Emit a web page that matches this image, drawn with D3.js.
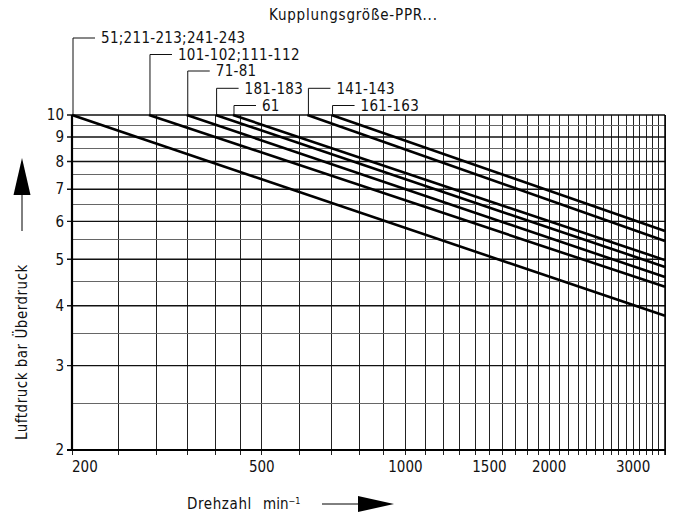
<!DOCTYPE html>
<html>
<head>
<meta charset="utf-8">
<script src="https://cdn.jsdelivr.net/npm/d3@7"></script>
<style>
  html, body { margin: 0; padding: 0; background: #fff; }
  svg { display: block; }
  text { font-family: "DejaVu Sans Condensed", "DejaVu Sans", sans-serif; fill: #111; }
</style>
</head>
<body>
<svg id="chart" width="673" height="518"></svg>
<script>
// ---- data ----
const seriesNames = ["51;211-213;241-243", "101-102;111-112", "71-81", "181-183", "61", "141-143", "161-163"];
const startRpm = [200, 290, 348, 400, 435, 623, 700];     // speed where pressure = 10 bar
const endPressure = [3.81, 4.38, 4.59, 4.82, 4.98, 5.46, 5.73]; // pressure at 3500 min^-1
const startPressure = 10;
const endRpm = 3500;
const xTickLabels = [200, 500, 1000, 1500, 2000, 3000];
const yTickLabels = [2, 3, 4, 5, 6, 7, 8, 9, 10];
const yHalfLines = [2.5, 3.5, 4.5, 5.5, 6.5, 7.5, 8.5, 9.5];
const xGridValues = [200, 250, 300, 350, 400, 450, 500, 600, 700, 800, 900, 1000, 1100, 1200, 1300, 1400, 1500,
  1600, 1700, 1800, 1900, 2000, 2100, 2200, 2300, 2400, 2500, 2600, 2700, 2800, 2900, 3000, 3100, 3200, 3300, 3400, 3500];
const labelLevel = [0, 1, 2, 3, 4, 3, 4];
const titleText = "Kupplungsgröße-PPR...";
const yTitle = "Luftdruck bar Überdruck";

// ---- layout ----
const svg = d3.select("#chart");
const x = d3.scaleLog().domain([200, 3500]).range([72, 665]);
const y = d3.scaleLog().domain([2, 10]).range([450, 115]);
const x0 = x.range()[0], x1 = x.range()[1], yTop = y.range()[1], yBot = y.range()[0];

// vertical grid
svg.append("g").selectAll("line").data(xGridValues).join("line")
  .attr("x1", d => x(d)).attr("x2", d => x(d))
  .attr("y1", yTop).attr("y2", yBot + 5)
  .attr("stroke", "#222").attr("stroke-width", 1).attr("shape-rendering", "crispEdges");

// horizontal half lines
svg.append("g").selectAll("line").data(yHalfLines).join("line")
  .attr("x1", x0).attr("x2", x1)
  .attr("y1", d => y(d)).attr("y2", d => y(d))
  .attr("stroke", "#666").attr("stroke-width", 1).attr("shape-rendering", "crispEdges");

// horizontal major lines
svg.append("g").selectAll("line").data(yTickLabels).join("line")
  .attr("x1", x0 - 5).attr("x2", x1)
  .attr("y1", d => y(d)).attr("y2", d => y(d))
  .attr("stroke", "#111").attr("stroke-width", 1.4);

// frame: left & bottom axis thicker
svg.append("line").attr("x1", x0).attr("x2", x0).attr("y1", yTop).attr("y2", yBot + 1)
  .attr("stroke", "#000").attr("stroke-width", 2.2);
svg.append("line").attr("x1", x0 - 5).attr("x2", x1 + 0.5).attr("y1", yBot).attr("y2", yBot)
  .attr("stroke", "#000").attr("stroke-width", 2);
svg.append("line").attr("x1", x1).attr("x2", x1).attr("y1", yTop).attr("y2", yBot + 5)
  .attr("stroke", "#000").attr("stroke-width", 1.5);

// y tick labels
svg.append("g").selectAll("text").data(yTickLabels).join("text")
  .attr("x", 64).attr("y", d => y(d)).attr("dy", "0.35em")
  .attr("text-anchor", "end").attr("font-size", 15)
  .text(d => d);

// x tick labels
svg.append("g").selectAll("text").data(xTickLabels).join("text")
  .attr("x", d => x(d)).attr("y", 467).attr("dy", "0.35em")
  .attr("text-anchor", d => d === 200 ? "start" : "middle").attr("font-size", 15)
  .text(d => d);

// series lines
const series = seriesNames.map((name, i) => ({
  name, level: labelLevel[i],
  pts: [[startRpm[i], startPressure], [endRpm, endPressure[i]]]
}));
const lineGen = d3.line().x(d => x(d[0])).y(d => y(d[1]));
svg.append("g").selectAll("path").data(series).join("path")
  .attr("d", d => lineGen(d.pts))
  .attr("fill", "none").attr("stroke", "#000").attr("stroke-width", 2.6);

// leaders and labels
const levelY = [38, 54.5, 71, 88.3, 105.5];
const lg = svg.append("g");
series.forEach(s => {
  const sx = x(s.pts[0][0]) + 1;
  const ly = levelY[s.level];
  lg.append("path")
    .attr("d", `M${sx},${yTop} V${ly} H${sx + 22}`)
    .attr("fill", "none").attr("stroke", "#111").attr("stroke-width", 1);
  lg.append("text").attr("x", sx + 28).attr("y", ly).attr("dy", "0.35em")
    .attr("font-size", 15).attr("letter-spacing", 0.3).text(s.name);
});

// title
svg.append("text").attr("x", 269).attr("y", 15).attr("dy", "0.35em")
  .attr("font-size", 15).attr("letter-spacing", 0.8).text(titleText);

// y axis title + arrow
svg.append("text").attr("transform", "translate(22,440) rotate(-90)")
  .attr("dy", "0.35em").attr("font-size", 15).attr("letter-spacing", 0.5).text(yTitle);
svg.append("line").attr("x1", 22).attr("x2", 22).attr("y1", 231).attr("y2", 193)
  .attr("stroke", "#000").attr("stroke-width", 1);
svg.append("path").attr("d", "M22,158 L30.5,195 L13.5,195 Z").attr("fill", "#000");

// x axis title + arrow
svg.append("text").attr("x", 187).attr("y", 504).attr("dy", "0.35em")
  .attr("font-size", 15).attr("letter-spacing", 0.6).text("Drehzahl");
const xt = svg.append("text").attr("x", 263).attr("y", 504).attr("dy", "0.35em").attr("font-size", 15);
xt.append("tspan").text("min");
xt.append("tspan").attr("font-size", 9).attr("dy", "-0.6em").text("−1");
svg.append("line").attr("x1", 322).attr("x2", 360).attr("y1", 504).attr("y2", 504)
  .attr("stroke", "#000").attr("stroke-width", 1);
svg.append("path").attr("d", "M358,496 L394,504 L358,512 Z").attr("fill", "#000");
</script>
</body>
</html>
